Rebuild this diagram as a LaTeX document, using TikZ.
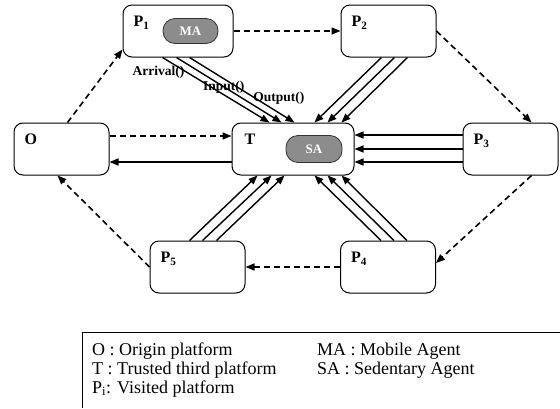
\documentclass[tikz,border=0pt]{standalone}
\usepackage{fontspec}
\setmainfont{Liberation Serif}
\usepackage{tikz}
\usetikzlibrary{shapes.geometric, arrows.meta, positioning, calc}

\begin{document}
\begin{tikzpicture}[x=1pt, y=-1pt, >={Triangle[length=9pt,width=7pt]},
	plat/.style={rectangle, rounded corners=9pt, draw, line width=1pt, minimum width=95pt, minimum height=52pt, inner sep=0pt},
	agent/.style={rectangle, rounded corners=12pt, draw=black!80, line width=0.8pt, fill=black!45, text=white, font=\bfseries\fontsize{13}{13}\selectfont, minimum height=25pt, inner sep=0pt},
	lbl/.style={anchor=base west, inner sep=0pt, font=\bfseries\fontsize{16}{16}\selectfont, xshift=11pt, yshift=-22pt},
	msg/.style={->, line width=1.4pt},
	move/.style={->, line width=1.6pt, dash pattern=on 6pt off 4pt},
	call/.style={inner sep=0pt, font=\bfseries\fontsize{13.5}{13.5}\selectfont},
	legtxt/.style={anchor=base west, inner sep=0pt, font=\fontsize{18}{18}\selectfont}]
	\useasboundingbox (0,0) rectangle (560,408);

	% platforms
	\node[plat] (O) at (61.5,149) [label={[lbl]north west:O}] {};
	\node[plat, minimum width=122pt] (T) at (293,149) [label={[lbl, xshift=2pt]north west:T}] {};
	\node[plat, minimum width=110pt] (P1) at (178,31) [label={[lbl]north west:P\textsubscript{1}}] {};
	\node[plat] (P2) at (388.5,31) [label={[lbl]north west:P\textsubscript{2}}] {};
	\node[plat] (P3) at (510.5,149) [label={[lbl]north west:P\textsubscript{3}}] {};
	\node[plat] (P4) at (388,267) [label={[lbl]north west:P\textsubscript{4}}] {};
	\node[plat] (P5) at (197.5,267) [label={[lbl]north west:P\textsubscript{5}}] {};

	% agents
	\node[agent, minimum width=55pt] (MA) at ([xshift=12.5pt]P1.center) {MA};
	\node[agent, minimum width=56pt, minimum height=27pt] (SA) at ([xshift=21pt]T.center) {SA};

	% migration of the mobile agent
	\draw[move] ([xshift=6pt]O.north) -- ([yshift=8pt]P1.south west);
	\draw[move] (P1) -- (P2);
	\draw[move] (P2.east) -- ([xshift=21pt]P3.north);
	\draw[move] ([xshift=21pt]P3.south) -- ([yshift=4pt]P4.east);
	\draw[move] (P4) -- (P5);
	\draw[move] (P5.west) -- ([xshift=-4pt]O.south);
	\draw[move] ([yshift=13pt]O.east) -- ([yshift=13pt]T.west);
	\draw[msg] ([yshift=-13pt]T.west) -- ([yshift=-13pt]O.east);

	% calls to the trusted platform
	\draw[msg] ([xshift=40pt]P1.south west) -- node[call, pos=0.23, left=2pt] {Arrival()} ([xshift=38pt]T.north west);
	\draw[msg] ([xshift=54pt]P1.south west) -- node[call, pos=0.45] {Input()} ([xshift=50pt]T.north west);
	\draw[msg] ([xshift=67pt]P1.south west) -- node[call, pos=0.62, right=-2pt] {Output()} ([xshift=63pt]T.north west);
	\foreach \a/\b in {41/83, 54/96, 67/110} {
		\draw[msg] ([xshift=\a pt]P2.south west) -- ([xshift=\b pt]T.north west);
		\draw[msg] ([xshift=\a pt]P4.north west) -- ([xshift=\b pt]T.south west);
	}
	\foreach \a/\b in {40/26, 53/40, 67/53}
		\draw[msg] ([xshift=\a pt]P5.north west) -- ([xshift=\b pt]T.south west);
	\foreach \s in {14, 0, -13}
		\draw[msg] ([yshift=\s pt]P3.west) -- ([yshift=\s pt]T.east);

	% legend
	\draw[line width=1pt] (560,332) -- (82,332) -- (82,408);
	\node[legtxt] (lgO) at (92,355) {O : Origin platform};
	\node[legtxt] (lgT) at (92,374) {T : Trusted third platform};
	\node[legtxt] (lgP) at (92,393) {P\textsubscript{i}: Visited platform};
	\node[legtxt] (lgMA) at (317,355) {MA : Mobile Agent};
	\node[legtxt] (lgSA) at (317,374) {SA : Sedentary Agent};
\end{tikzpicture}
\end{document}
